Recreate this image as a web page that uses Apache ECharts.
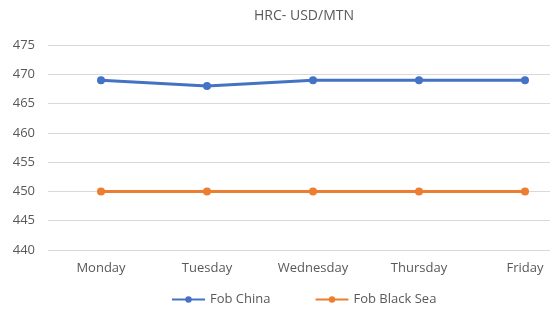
<!DOCTYPE html>
<html><head><meta charset="utf-8">
<script src="https://cdn.jsdelivr.net/npm/echarts@6/dist/echarts.min.js"></script>
<style>html,body{margin:0;padding:0;background:#fff;overflow:hidden}#c{width:550px;height:317px}</style>
</head><body><div id="c"></div>
<script>
const categories = ['Monday','Tuesday','Wednesday','Thursday','Friday'];
const fobChina = [469, 468, 469, 469, 469];
const fobBlackSea = [450, 450, 450, 450, 450];
const seriesNames = ['Fob China','Fob Black Sea'];
const chart = echarts.init(document.getElementById('c'));
chart.setOption({
  animation: false,
  title: {text: 'HRC- USD/MTN', left: 299, top: 4, textAlign: 'center',
    textStyle: {color: '#595959', fontSize: 14, fontWeight: 'normal', fontFamily: '"Open Sans", sans-serif'}},
  legend: {data: seriesNames, bottom: 6, left: 166, itemWidth: 33, itemHeight: 8, itemGap: 44,
    textStyle: {color: '#595959', fontSize: 13, fontFamily: '"Open Sans", sans-serif'}},
  grid: {left: 48, width: 530, top: 45, bottom: 67, outerBoundsMode: 'none', containLabel: false},
  xAxis: {type: 'category', data: categories, boundaryGap: true,
    axisLine: {show: false}, axisTick: {show: false},
    axisLabel: {color: '#595959', fontSize: 13, margin: 12, fontFamily: '"Open Sans", sans-serif'}},
  yAxis: {type: 'value', min: 440, max: 475, interval: 5,
    axisLine: {show: false}, axisTick: {show: false},
    splitLine: {lineStyle: {color: '#d9d9d9', width: 1}},
    axisLabel: {color: '#595959', fontSize: 13, margin: 13, fontFamily: '"Open Sans", sans-serif'}},
  series: [
    {name: seriesNames[0], type: 'line', data: fobChina, symbol: 'circle', symbolSize: 8,
     lineStyle: {color: '#4472C4', width: 3}, itemStyle: {color: '#4472C4'}},
    {name: seriesNames[1], type: 'line', data: fobBlackSea, symbol: 'circle', symbolSize: 8,
     lineStyle: {color: '#ED7D31', width: 3}, itemStyle: {color: '#ED7D31'}}
  ]
});
</script></body></html>
